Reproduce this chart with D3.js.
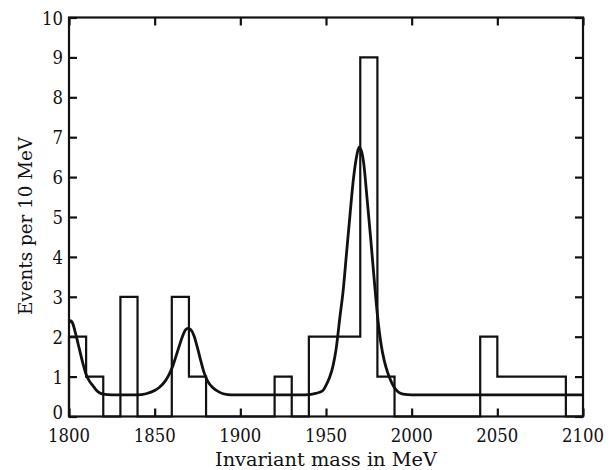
<!DOCTYPE html>
<html>
<head>
<meta charset="utf-8">
<script src="https://cdn.jsdelivr.net/npm/d3@7"></script>
<style>
  html, body { margin: 0; padding: 0; background: #fff; }
  svg { display: block; }
</style>
</head>
<body>
<svg id="chart" width="612" height="470"></svg>
<script>
// Histogram: lower bin edges (MeV) and events per 10 MeV
const binStarts = [1800,1810,1820,1830,1840,1850,1860,1870,1880,1890,1900,1910,1920,1930,1940,1950,1960,1970,1980,1990,2000,2010,2020,2030,2040,2050,2060,2070,2080,2090];
const binCounts = [2,1,0,3,0,0,3,1,0,0,0,0,1,0,2,2,2,9,1,0,0,0,0,0,2,1,1,1,1,0];
const binWidth = 10;

// Fitted curve
const curveMass = [1800,1801,1802,1804,1806,1808,1810,1812,1814,1816,1818,1820,1825,1840,1845,1850,1853,1856,1858,1860,1862,1864,1866,1868,1869.5,1871,1873,1875,1877,1879,1881,1884,1887,1890,1895,1935,1940,1944,1948,1950,1952,1954,1956,1958,1960,1962,1964,1966,1968,1969.3,1971,1972,1974,1976,1978,1980,1982,1984,1986,1988,1990,1992,1995,2000,2100];
const curveEvents = [2.35,2.40,2.35,2.05,1.70,1.35,1.05,0.88,0.77,0.66,0.59,0.56,0.54,0.54,0.57,0.65,0.74,0.88,1.02,1.20,1.45,1.72,1.98,2.17,2.21,2.18,2.02,1.72,1.38,1.08,0.88,0.72,0.63,0.57,0.54,0.54,0.55,0.58,0.64,0.78,0.97,1.25,1.72,2.45,3.15,4.10,5.05,5.95,6.55,6.75,6.60,6.35,5.45,4.50,3.50,2.55,1.85,1.40,1.10,0.88,0.72,0.62,0.56,0.54,0.54];

// Axis ticks
const xTicks = [1800,1850,1900,1950,2000,2050,2100];
const yTicks = [0,1,2,3,4,5,6,7,8,9,10];
const xTitle = "Invariant mass in MeV";
const yTitle = "Events per 10 MeV";

const W = 612, H = 470;
const m = {left: 69, right: 29, top: 17.5, bottom: 53.5};
const x = d3.scaleLinear().domain([1800, 2100]).range([m.left, W - m.right]);
const y = d3.scaleLinear().domain([0, 10]).range([H - m.bottom, m.top]);

const FONT = "'DejaVu Serif', 'Liberation Serif', serif";
const svg = d3.select("#chart");
const tickLen = 8;
const fs = 19;

// Histogram step outline
const stepPts = [[binStarts[0], 0]];
binStarts.forEach((s, i) => {
  stepPts.push([s, binCounts[i]]);
  stepPts.push([s + binWidth, binCounts[i]]);
});
stepPts.push([binStarts[binStarts.length - 1] + binWidth, 0]);
svg.append("path")
  .attr("d", d3.line().x(d => x(d[0])).y(d => y(d[1]))(stepPts))
  .attr("fill", "none").attr("stroke", "#111").attr("stroke-width", 2.2)
  .attr("stroke-linejoin", "miter");

// Curve
const cpts = curveMass.map((v, i) => [v, curveEvents[i]]);
svg.append("path")
  .attr("d", d3.line().x(d => x(d[0])).y(d => y(d[1])).curve(d3.curveMonotoneX)(cpts))
  .attr("fill", "none").attr("stroke", "#111").attr("stroke-width", 2.8);

// Axes with inward ticks on all four sides
const ax = svg.append("g");
ax.append("g").attr("transform", `translate(0,${y(0)})`)
  .call(d3.axisBottom(x).tickValues(xTicks).tickSize(-tickLen).tickFormat(""));
ax.append("g").attr("transform", `translate(0,${y(10)})`)
  .call(d3.axisTop(x).tickValues(xTicks).tickSize(-tickLen).tickFormat(""));
ax.append("g").attr("transform", `translate(${x(1800)},0)`)
  .call(d3.axisLeft(y).tickValues(yTicks).tickSize(-tickLen).tickFormat(""));
ax.append("g").attr("transform", `translate(${x(2100)},0)`)
  .call(d3.axisRight(y).tickValues(yTicks).tickSize(-tickLen).tickFormat(""));
ax.selectAll(".domain").remove();
ax.selectAll("line").attr("stroke", "#111").attr("stroke-width", 2.2);

// Frame
svg.append("rect")
  .attr("x", x(1800)).attr("y", y(10))
  .attr("width", x(2100) - x(1800)).attr("height", y(0) - y(10))
  .attr("fill", "none").attr("stroke", "#111").attr("stroke-width", 2.2);

// Tick labels
svg.selectAll(".xl").data(xTicks).enter().append("text")
  .attr("x", d => x(d)).attr("y", 442)
  .attr("text-anchor", "middle").attr("font-size", fs)
  .attr("font-family", FONT).attr("fill", "#111")
  .attr("textLength", 42).attr("lengthAdjust", "spacingAndGlyphs")
  .text(d => d);
svg.selectAll(".yl").data(yTicks).enter().append("text")
  .attr("x", x(1800) - 6).attr("y", d => y(d) + (d === 0 ? 2.5 : 7))
  .attr("text-anchor", "end").attr("font-size", fs)
  .attr("font-family", FONT).attr("fill", "#111")
  .attr("textLength", d => d >= 10 ? 21 : 10.5).attr("lengthAdjust", "spacingAndGlyphs")
  .text(d => d);

// Titles
svg.append("text")
  .attr("x", (x(1800) + x(2100)) / 2).attr("y", 466)
  .attr("text-anchor", "middle").attr("font-size", fs)
  .attr("font-family", FONT).attr("fill", "#111")
  .attr("textLength", 222).attr("lengthAdjust", "spacingAndGlyphs")
  .text(xTitle);
svg.append("text")
  .attr("transform", `translate(32,${226}) rotate(-90)`)
  .attr("text-anchor", "middle").attr("font-size", fs)
  .attr("font-family", FONT).attr("fill", "#111")
  .attr("textLength", 178).attr("lengthAdjust", "spacingAndGlyphs")
  .text(yTitle);
</script>
</body>
</html>
